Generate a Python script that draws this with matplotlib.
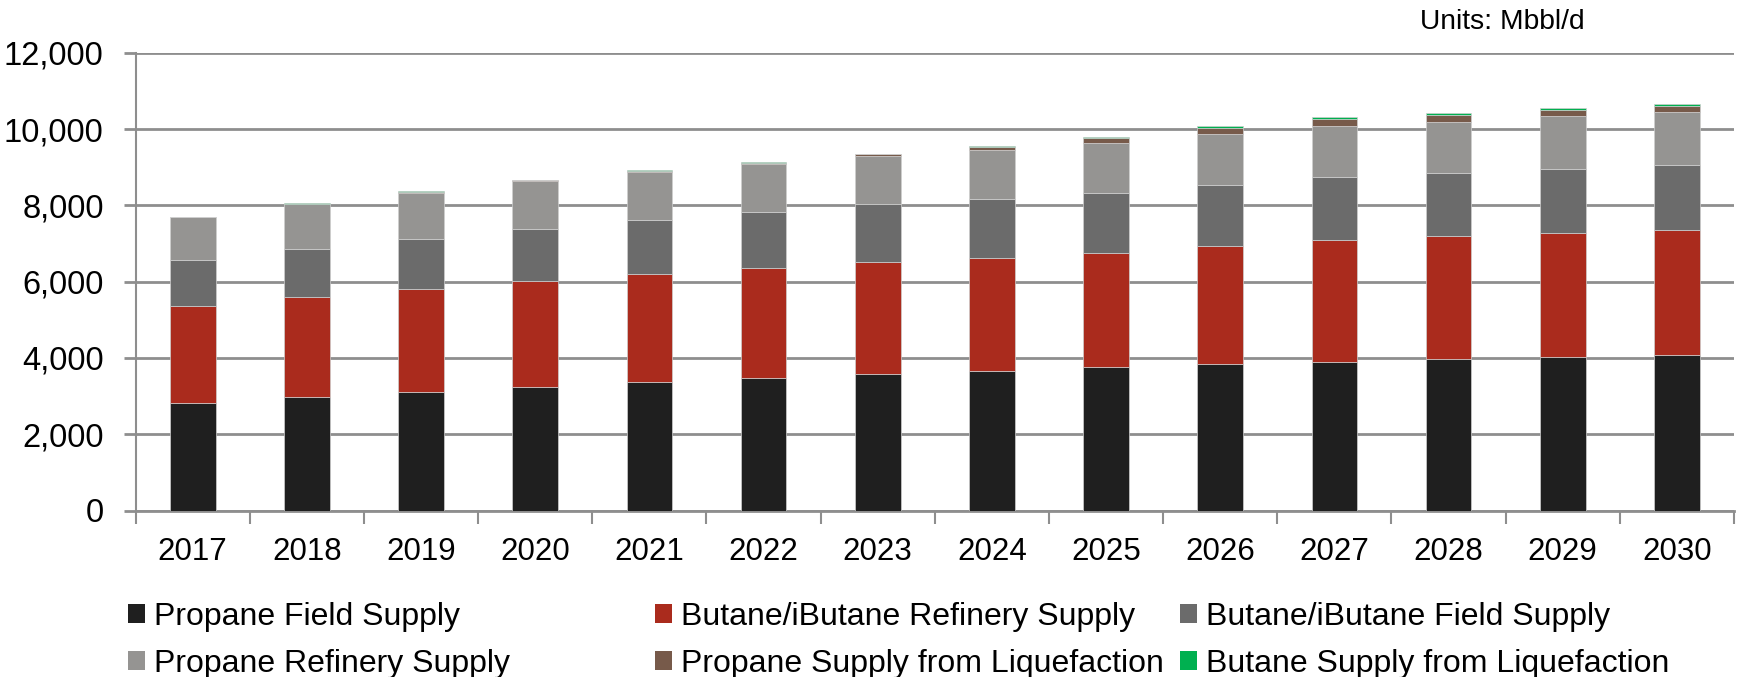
import matplotlib
matplotlib.use("Agg")
import matplotlib.pyplot as plt
import numpy as np
from matplotlib.patches import Patch

plt.rcParams['font.family'] = ['Liberation Sans', 'DejaVu Sans']

years = ['2017', '2018', '2019', '2020', '2021', '2022', '2023',
         '2024', '2025', '2026', '2027', '2028', '2029', '2030']
propane_field = [2830, 2987, 3118, 3249, 3380, 3485, 3581, 3668, 3755, 3843, 3904, 3983, 4035, 4070]
butane_refinery = [2541, 2620, 2699, 2777, 2830, 2873, 2943, 2961, 3005, 3100, 3196, 3205, 3249, 3291]
butane_field = [1199, 1253, 1298, 1344, 1414, 1467, 1511, 1529, 1564, 1591, 1644, 1652, 1670, 1707]
propane_refinery = [1115, 1175, 1218, 1269, 1251, 1260, 1269, 1286, 1304, 1322, 1330, 1348, 1383, 1374]
propane_liq = [0, 5, 20, 20, 25, 25, 30, 88, 131, 166, 184, 166, 157, 166]
butane_liq = [0, 12, 15, 15, 20, 20, 23, 35, 44, 52, 44, 53, 53, 44]

series = [
    ('Propane Field Supply', propane_field, '#1f1f1f'),
    ('Butane/iButane Refinery Supply', butane_refinery, '#aa2b1d'),
    ('Butane/iButane Field Supply', butane_field, '#6b6b6b'),
    ('Propane Refinery Supply', propane_refinery, '#959492'),
    ('Propane Supply from Liquefaction', propane_liq, '#775a4a'),
    ('Butane Supply from Liquefaction', butane_liq, '#00b050'),
]
y_ticks = [0, 2000, 4000, 6000, 8000, 10000, 12000]

W, H = 1739, 677
fig = plt.figure(figsize=(W / 100, H / 100), dpi=100)
ax = fig.add_axes([135.6 / W, 1 - 510.5 / H, (1734 - 135.6) / W, (510.5 - 52.7) / H])

x = np.arange(len(years))
bottom = np.zeros(len(years))
handles = {}
for name, vals, col in series:
    v = np.array(vals, dtype=float)
    ax.bar(x, v, 0.40, bottom=bottom, color=col, edgecolor='#cfcfcf',
           linewidth=0.5, zorder=3)
    handles[name] = Patch(facecolor=col, edgecolor='none')
    bottom += v

ax.set_xlim(-0.5, len(years) - 0.5)
ax.set_ylim(0, 12000)
ax.set_yticks(y_ticks)
ax.set_yticklabels([f'{t:,}' for t in y_ticks])
ax.yaxis.grid(True, color='#8e8e8e', linewidth=2.0, zorder=0)
ax.set_axisbelow(True)

ax.set_xticks(np.arange(-0.5, len(years), 1.0))
ax.set_xticklabels([])
ax.set_xticks(x, minor=True)
ax.set_xticklabels(years, minor=True)
ax.tick_params(axis='x', which='major', length=9, width=1.5, color='#8e8e8e', direction='out')
ax.tick_params(axis='x', which='minor', length=0, pad=19, labelsize=22.5)
ax.tick_params(axis='y', length=9, width=2.0, color='#8e8e8e', pad=14, labelsize=23.5)

for s in ['top', 'right']:
    ax.spines[s].set_visible(False)
ax.spines['left'].set_color('#8e8e8e')
ax.spines['left'].set_linewidth(1.5)
ax.spines['bottom'].set_color('#8e8e8e')
ax.spines['bottom'].set_linewidth(2.0)

cols = [
    (128, ['Propane Field Supply', 'Propane Refinery Supply']),
    (655, ['Butane/iButane Refinery Supply', 'Propane Supply from Liquefaction']),
    (1180, ['Butane/iButane Field Supply', 'Butane Supply from Liquefaction']),
]
for xpos, names in cols:
    leg = fig.legend([handles[n] for n in names], names, loc='center left',
                     bbox_to_anchor=(xpos / W, 1 - 640.5 / H), frameon=False,
                     fontsize=23, handlelength=0.54, handleheight=0.54,
                     handletextpad=0.26, labelspacing=0.52, borderpad=0,
                     borderaxespad=0)

fig.text(1502 / W, 1 - 22 / H, 'Units: Mbbl/d', ha='center', va='center', fontsize=20.3)

fig.savefig('out.png', dpi=100)
